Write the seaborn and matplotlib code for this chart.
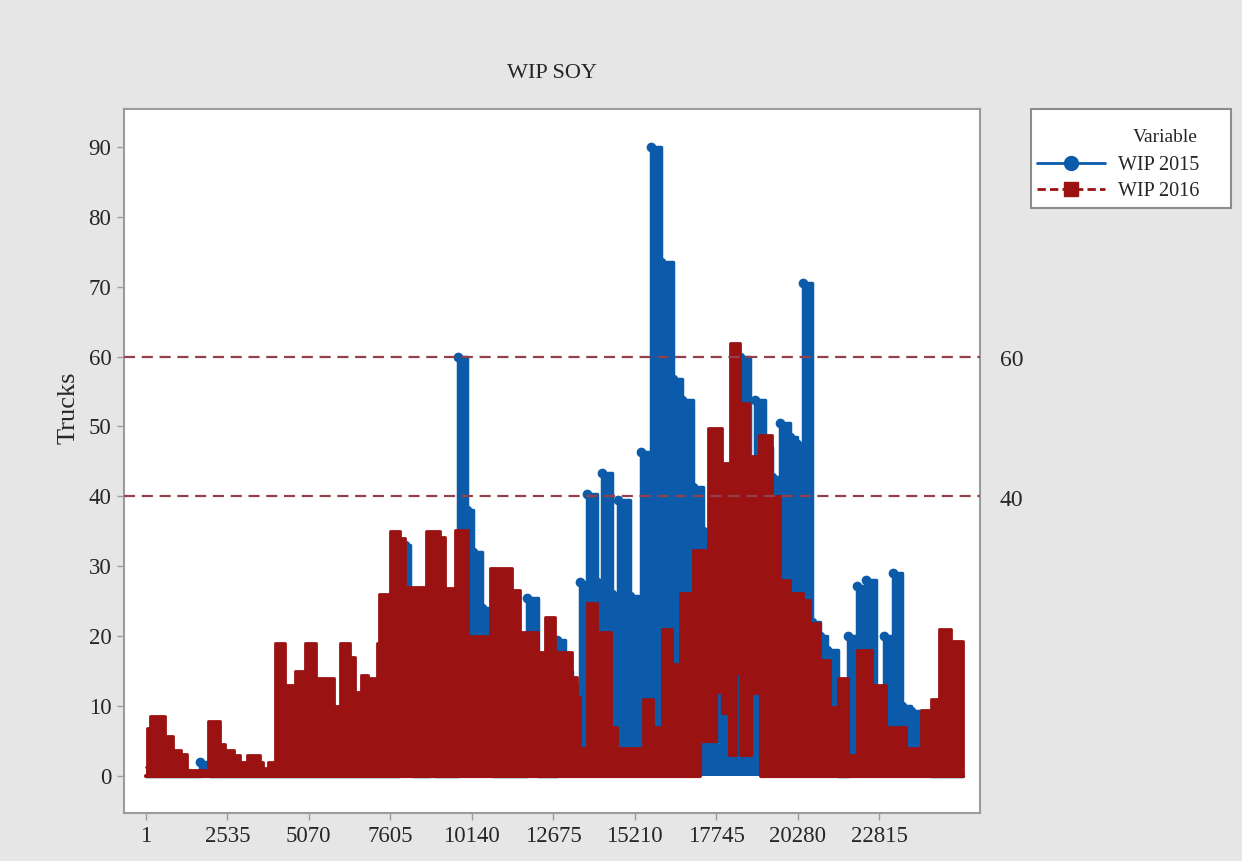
import matplotlib
matplotlib.use('Agg')
import matplotlib.pyplot as plt
from matplotlib.lines import Line2D
from matplotlib.patches import Rectangle
import seaborn as sns

# WIP 2016 (red): step start, top of band, bottom of band
red_x = [1, 40, 120, 590, 850, 1110, 1270, 1950, 2320, 2470, 2730, 2940, 3140, 3550, 3660,
         3810, 4020, 4330, 4640, 4960, 5300, 5860, 6030, 6360, 6520, 6690, 6900, 7190, 7270,
         7590, 7900, 8070, 8730, 9150, 9300, 9610, 10010, 10700, 11380, 11630, 12190, 12410,
         12720, 13250, 13400, 13500, 13720, 14030, 14460, 14650, 15460, 15770, 16050, 16360,
         16610, 17010, 17230, 17480, 17750, 17910, 17950, 18160, 18370, 18470, 18525, 18780,
         18840, 19090, 19150, 19470, 19720, 20030, 20430, 20650, 20960, 21270, 21520, 21830,
         22110, 22580, 23040, 23660, 24130, 24440, 24690, 25060, 25420]
red_hi = [1.3, 6.8, 8.6, 5.7, 3.7, 3.1, 0.8, 7.9, 4.6, 3.7, 3.0, 2.0, 3.0, 2.0, 1.2,
          2.0, 19, 13, 15, 19, 14, 10, 19, 17, 12, 14.5, 14, 19, 26,
          35, 34, 27, 35, 34.2, 26.9, 35.2, 20, 29.8, 26.6, 20.6, 17.8, 22.8,
          17.8, 14.2, 11.3, 4, 24.7, 20.6, 7, 4, 11, 7, 21, 16,
          26.2, 32.3, 32.3, 49.8, 49.8, 44.8, 44.8, 61.9, 61.9, 53.3, 53.3, 45.7,
          45.7, 48.8, 48.8, 40, 28, 26.2, 25.2, 21.9, 16.6, 9.9, 14, 3,
          18, 13, 7, 4, 9.5, 11, 21, 19.3, 0]
red_lo = [0] * 56 + [5, 5, 12, 12, 9, 3, 14.7, 14.7, 3, 3, 11.8, 11.8] + [0] * 19

# WIP 2015 (blue)
blue_x = [1, 1680, 1990, 7870, 8070, 8230, 8300, 8830, 8990, 9700, 9990, 10170, 10450,
          10640, 10800, 11850, 12190, 12780, 13030, 13270, 13500, 13720, 14030, 14180,
          14490, 14680, 15050, 15420, 15730, 16040, 16390, 16670, 17010, 17330, 17480,
          18470, 18790, 18940, 19250, 19310, 19470, 19720, 20030, 20250, 20430, 20740,
          20960, 21200, 21520, 21830, 22110, 22420, 22730, 22980, 23230, 23540, 23820,
          24160, 24440, 25420]
blue_hi = [0, 2, 0, 31, 33, 18, 0, 9, 0, 60, 38, 32, 24,
           21, 0, 25.5, 0, 19.4, 15, 13, 27.7, 40.3, 27.7, 43.3,
           26, 39.5, 25.8, 46.4, 90, 73.5, 56.8, 53.8, 41.4, 35, 20,
           60, 30, 53.8, 45, 47, 42.8, 50.5, 48.5, 47.5, 70.5, 22,
           20, 18, 0, 20, 27.2, 28, 11, 20, 29, 10, 9.3,
           7.9, 0, 0]

x_ticks = [1, 2535, 5070, 7605, 10140, 12675, 15210, 17745, 20280, 22815]
y_ticks = [0, 10, 20, 30, 40, 50, 60, 70, 80, 90]
ref_lines = [60, 40]

BLUE = '#0B5BAA'
RED = '#9A1212'
REF = '#93404A'
GRAY = '#9C9C9C'

sns.set_style('white')
plt.rcParams['font.family'] = ['Liberation Serif', 'DejaVu Serif']

fig = plt.figure(figsize=(12.42, 8.61), dpi=100, facecolor='#E6E6E6')
ax = fig.add_axes([0.0998, 0.0557, 0.6892, 0.8177])
ax.set_facecolor('white')

# blue series first, red drawn on top of it
blue_marks = [i for i, v in enumerate(blue_hi) if v > 0]
ax.fill_between(blue_x, 0, blue_hi, step='post', color=BLUE, lw=0, zorder=1)
sns.lineplot(x=blue_x, y=blue_hi, drawstyle='steps-post', color=BLUE, lw=2.5,
             marker='o', markersize=7, markeredgewidth=0, markevery=blue_marks,
             estimator=None, sort=False, ax=ax, zorder=2)
ax.fill_between(red_x, red_lo, red_hi, step='post', color=RED, lw=0, zorder=3)
sns.lineplot(x=red_x, y=red_hi, drawstyle='steps-post', color=RED, lw=2,
             estimator=None, sort=False, ax=ax, zorder=4)
sns.lineplot(x=red_x, y=red_lo, drawstyle='steps-post', color=RED, lw=3,
             estimator=None, sort=False, ax=ax, zorder=4)

for v in ref_lines:
    ax.axhline(v, color=REF, lw=1.6, dashes=(5, 3), zorder=5)
    ax.text(1.023, v - 0.6, str(v), transform=ax.get_yaxis_transform(), fontsize=17,
            va='center', ha='left')

ax.set_xlim(-680, 25950)
ax.set_ylim(-5.3, 95.4)
ax.set_xticks(x_ticks)
ax.set_yticks(y_ticks)
ax.tick_params(axis='both', labelsize=16.5, length=5, width=1, color=GRAY, pad=4,
               bottom=True, left=True)
for s in ax.spines.values():
    s.set_color(GRAY)
    s.set_linewidth(1.5)

ax.set_title('WIP SOY', fontsize=16, pad=22)
ax.set_xlabel('')
ax.set_ylabel('Trucks', fontsize=19)
ax.yaxis.set_label_coords(-0.052, 0.575)

# legend box
fig.patches.append(Rectangle((1031 / 1242, 1 - 208 / 861), 200 / 1242, 99 / 861,
                             transform=fig.transFigure, facecolor='white',
                             edgecolor='#8C8C8C', lw=1.5))
fig.text(1198 / 1242, 1 - 137 / 861, 'Variable', ha='right', va='center', fontsize=14)
handles = [
    Line2D([], [], color=BLUE, lw=2, marker='o', markersize=10),
    Line2D([], [], color=RED, lw=2, marker='s', markersize=10, dashes=(3, 1.5)),
]
fig.legend(handles, ['WIP 2015', 'WIP 2016'], loc='upper left',
           bbox_to_anchor=(1037 / 1242, 1 - 156 / 861), frameon=False,
           fontsize=14.5, handlelength=3.4, handletextpad=0.6,
           labelspacing=0.35, borderaxespad=0, borderpad=0)

fig.savefig('out.png', dpi=100, facecolor=fig.get_facecolor())
